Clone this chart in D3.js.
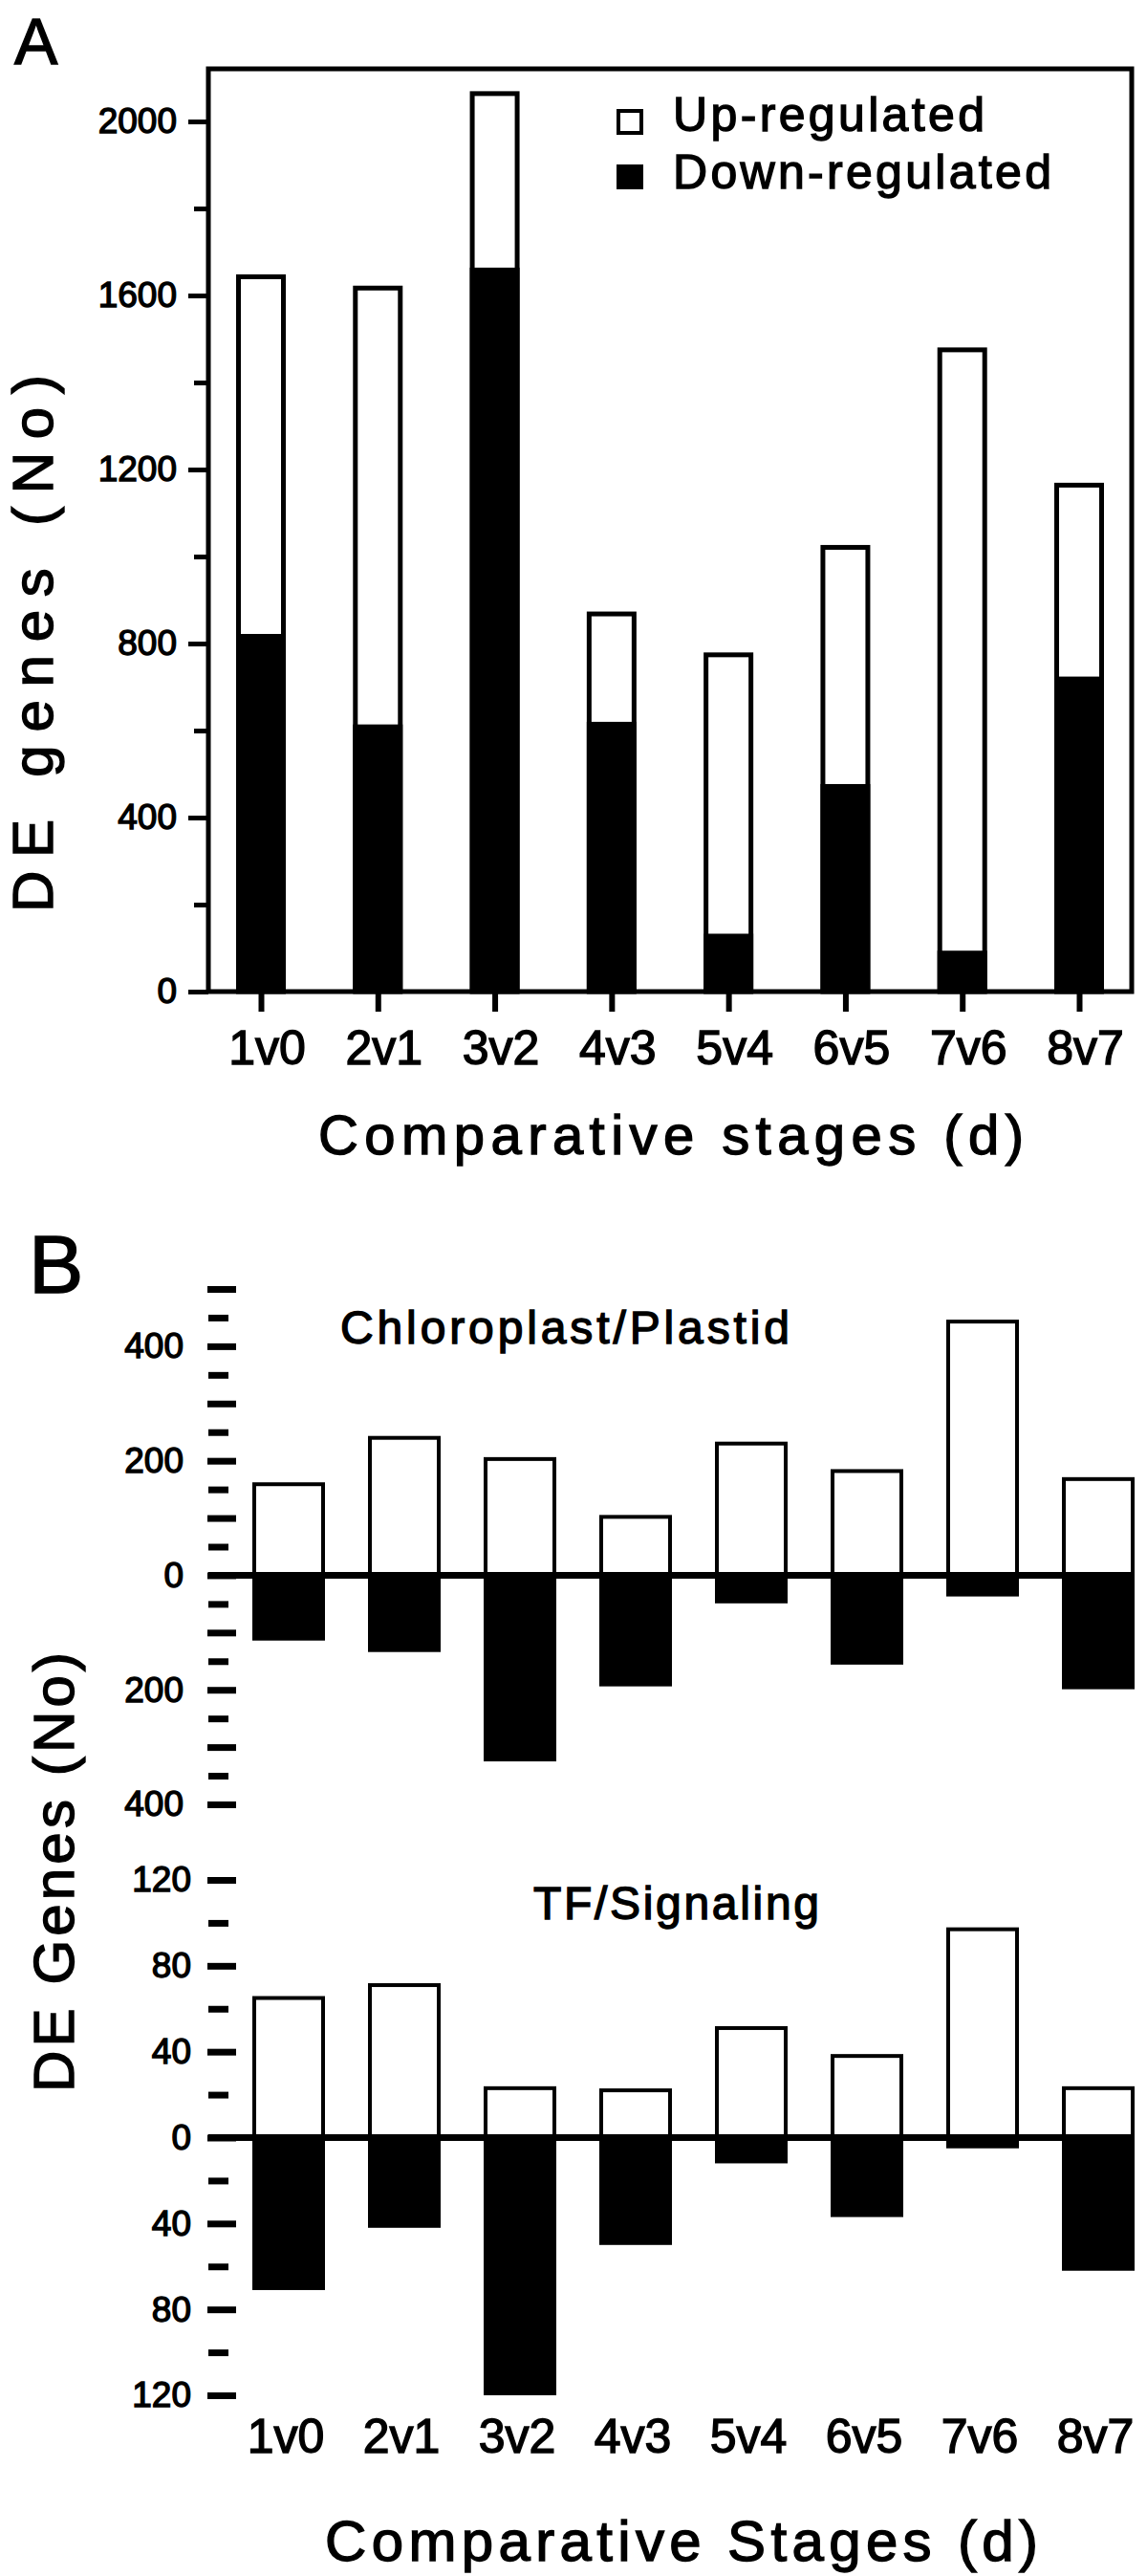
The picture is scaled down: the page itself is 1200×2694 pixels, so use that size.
<!DOCTYPE html>
<html>
<head>
<meta charset="utf-8">
<script src="https://cdn.jsdelivr.net/npm/d3@7"></script>
<style>
  body { margin: 0; background: #fff; }
  /* the scanned figure has fairly heavy type, thicken the glyphs a bit */
  svg text { font-family: "Liberation Sans", Arial, Helvetica, sans-serif; fill: #000; stroke: #000; stroke-width: 1.4px; }
</style>
</head>
<body>
<svg id="fig" width="1200" height="2694"></svg>
<script>
// stages compared (day vs previous day)
const stages = ['1v0', '2v1', '3v2', '4v3', '5v4', '6v5', '7v6', '8v7'];

// panel A - all DE genes (stacked: down at bottom, up on top)
const upA = [821, 1003, 400, 248, 641, 544, 1381, 440];
const downA = [822, 614, 1664, 620, 133, 477, 94, 724];
const ticksA = [0, 400, 800, 1200, 1600, 2000];
const minorA = [200, 600, 1000, 1400, 1800];

// panel B - chloroplast/plastid genes
const chloroUp = [159, 240, 203, 102, 230, 182, 443, 168];
const chloroDown = [114, 134, 325, 194, 49, 156, 37, 199];
const chloroMajor = [-400, -300, -200, -100, 0, 100, 200, 300, 400, 500];
const chloroMinor = [-350, -250, -150, -50, 50, 150, 250, 350, 450];

// panel B - TF / signaling genes
const tfUp = [65, 71, 23, 22, 51, 38, 97, 23];
const tfDown = [71, 42, 120, 50, 12, 37, 5, 62];
const tfMajor = [-120, -80, -40, 0, 40, 80, 120];
const tfMinor = [-100, -60, -20, 20, 60, 100];

const svg = d3.select('#fig');

// ---------- panel A ----------
const frame = {left: 218, right: 1184, top: 72, bottom: 1037};
const xA = d3.scalePoint().domain(stages).range([273, 1129]);
const yA = d3.scaleLinear().domain([0, 2000]).range([1037, 127]);
const barWA = 47;

svg.append('text').attr('x', 15).attr('y', 67)
    .style('font-size', '68px').text('A');

const gA = svg.append('g');

// white (total) bars with outline, black down part on top
gA.selectAll('rect.up')
    .data(stages).enter()
    .append('rect')
    .attr('class', 'up')
    .attr('x', d => xA(d) - barWA / 2)
    .attr('width', barWA)
    .attr('y', (d, i) => yA(upA[i] + downA[i]))
    .attr('height', (d, i) => yA(0) - yA(upA[i] + downA[i]))
    .attr('fill', '#fff').attr('stroke', '#000').attr('stroke-width', 5);

gA.selectAll('rect.down')
    .data(stages).enter()
    .append('rect')
    .attr('class', 'down')
    .attr('x', d => xA(d) - barWA / 2 - 2.5)
    .attr('width', barWA + 5)
    .attr('y', (d, i) => yA(downA[i]))
    .attr('height', (d, i) => yA(0) - yA(downA[i]))
    .attr('fill', '#000');

// frame
gA.append('rect')
    .attr('x', frame.left).attr('y', frame.top)
    .attr('width', frame.right - frame.left)
    .attr('height', frame.bottom - frame.top)
    .attr('fill', 'none').attr('stroke', '#000').attr('stroke-width', 5);

// y axis
const axA = gA.append('g').attr('transform', `translate(${frame.left},0)`)
    .call(d3.axisLeft(yA).tickValues(ticksA).tickSize(21).tickPadding(12).tickFormat(d3.format('d')));
axA.select('.domain').remove();
axA.selectAll('line').attr('stroke-width', 5);
axA.selectAll('text').style('font-size', '37px');

const axAm = gA.append('g').attr('transform', `translate(${frame.left},0)`)
    .call(d3.axisLeft(yA).tickValues(minorA).tickSize(15).tickFormat(''));
axAm.select('.domain').remove();
axAm.selectAll('line').attr('stroke-width', 5);

// x axis ticks + labels
const axAx = gA.append('g').attr('transform', `translate(0,${frame.bottom})`)
    .call(d3.axisBottom(xA).tickSize(21));
axAx.select('.domain').remove();
axAx.selectAll('line').attr('stroke-width', 6);
axAx.selectAll('text')
    .attr('dy', null).attr('y', 76).attr('x', 6)
    .style('font-size', '50px');

svg.append('text')
    .attr('x', 333).attr('y', 1207)
    .attr('textLength', 738).attr('lengthAdjust', 'spacing')
    .style('font-size', '58px')
    .text('Comparative stages (d)');

svg.append('text')
    .attr('transform', 'translate(55,673) rotate(-90)')
    .attr('x', -281).attr('y', 0)
    .attr('textLength', 562).attr('lengthAdjust', 'spacing')
    .style('font-size', '60px')
    .text('DE genes (No)');

// legend
svg.append('rect').attr('x', 647).attr('y', 116).attr('width', 24).attr('height', 23)
    .attr('fill', '#fff').attr('stroke', '#000').attr('stroke-width', 4);
svg.append('rect').attr('x', 645).attr('y', 172).attr('width', 28).attr('height', 26)
    .attr('fill', '#000');
svg.append('text').attr('x', 704).attr('y', 137)
    .attr('textLength', 326).attr('lengthAdjust', 'spacing')
    .style('font-size', '50px').text('Up-regulated');
svg.append('text').attr('x', 704).attr('y', 197)
    .attr('textLength', 396).attr('lengthAdjust', 'spacing')
    .style('font-size', '50px').text('Down-regulated');

// ---------- panel B ----------
const xB = d3.scalePoint().domain(stages).range([302, 1149]);
const barWB = 72;
const yC = d3.scaleLinear().domain([-400, 500]).range([1887, 1348]);
const yT = d3.scaleLinear().domain([-120, 120]).range([2505, 1966]);

svg.append('text').attr('x', 30).attr('y', 1352)
    .style('font-size', '86px').text('B');

function divergingPanel(y, up, down, major, minor, fmt, labelRight, title, tx, ty, tlen) {
    const g = svg.append('g');

    g.selectAll('rect.up')
        .data(stages).enter()
        .append('rect')
        .attr('x', d => xB(d) - barWB / 2)
        .attr('width', barWB)
        .attr('y', (d, i) => y(up[i]))
        .attr('height', (d, i) => y(0) - y(up[i]))
        .attr('fill', '#fff').attr('stroke', '#000').attr('stroke-width', 4);

    g.selectAll('rect.down')
        .data(stages).enter()
        .append('rect')
        .attr('x', d => xB(d) - barWB / 2 - 2)
        .attr('width', barWB + 4)
        .attr('y', y(0))
        .attr('height', (d, i) => y(-down[i]) - y(0))
        .attr('fill', '#000');

    // zero line
    g.append('line')
        .attr('x1', 218).attr('x2', 1184)
        .attr('y1', y(0)).attr('y2', y(0))
        .attr('stroke', '#000').attr('stroke-width', 7);

    // floating ticks, no axis line
    const ax = g.append('g').attr('transform', 'translate(247,0)')
        .call(d3.axisLeft(y).tickValues(major).tickSize(30)
            .tickPadding(247 - 30 - labelRight).tickFormat(fmt));
    ax.select('.domain').remove();
    ax.selectAll('line').attr('stroke-width', 7);
    ax.selectAll('text').style('font-size', '37px');

    const axm = g.append('g').attr('transform', 'translate(239,0)')
        .call(d3.axisLeft(y).tickValues(minor).tickSize(21).tickFormat(''));
    axm.select('.domain').remove();
    axm.selectAll('line').attr('stroke-width', 7);

    g.append('text').attr('x', tx).attr('y', ty)
        .attr('textLength', tlen).attr('lengthAdjust', 'spacing')
        .style('font-size', '48px').text(title);
}

divergingPanel(yC, chloroUp, chloroDown, chloroMajor, chloroMinor,
    d => (d % 200 === 0 ? Math.abs(d) : ''), 192,
    'Chloroplast/Plastid', 356, 1405, 470);

divergingPanel(yT, tfUp, tfDown, tfMajor, tfMinor,
    d => Math.abs(d), 200,
    'TF/Signaling', 558, 2007, 299);

// stage labels under panel B (no tick marks)
svg.selectAll('text.stageB')
    .data(stages).enter()
    .append('text')
    .attr('class', 'stageB')
    .attr('x', d => xB(d) - 3)
    .attr('y', 2565)
    .attr('text-anchor', 'middle')
    .style('font-size', '50px')
    .text(d => d);

svg.append('text')
    .attr('x', 340).attr('y', 2678)
    .attr('textLength', 746).attr('lengthAdjust', 'spacing')
    .style('font-size', '60px')
    .text('Comparative Stages (d)');

svg.append('text')
    .attr('transform', 'translate(77,1958) rotate(-90)')
    .attr('x', -230).attr('y', 0)
    .attr('textLength', 460).attr('lengthAdjust', 'spacing')
    .style('font-size', '60px')
    .text('DE Genes (No)');
</script>
</body>
</html>
